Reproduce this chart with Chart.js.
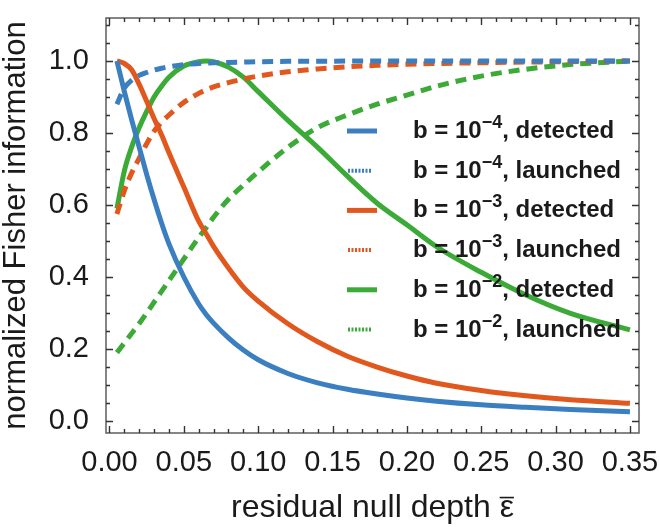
<!DOCTYPE html>
<html>
<head>
<meta charset="utf-8">
<script src="https://cdn.jsdelivr.net/npm/chart.js@4.4.1/dist/chart.umd.min.js"></script>
<style>
  html, body { margin: 0; padding: 0; background: #fff; }
  #wrap { width: 660px; height: 527px; }
</style>
</head>
<body>
<div id="wrap"><canvas id="fisherChart" width="660" height="527"></canvas></div>
<script>
// ── Data ───────────────────────────────────────────────────
const eps = [0.005, 0.01, 0.015, 0.02, 0.025, 0.03, 0.035, 0.04, 0.05, 0.06, 0.065, 0.07, 0.08,
             0.09, 0.10, 0.12, 0.14, 0.16, 0.18, 0.20, 0.22, 0.25, 0.28, 0.31, 0.35];

const detected4 = [1.00, 0.915, 0.835, 0.76, 0.685, 0.615, 0.55, 0.492, 0.40, 0.325, 0.296, 0.272, 0.231,
                   0.197, 0.17, 0.132, 0.106, 0.088, 0.075, 0.064, 0.055, 0.045, 0.038, 0.032, 0.026];
const launched4 = [0.88, 0.925, 0.947, 0.96, 0.968, 0.975, 0.98, 0.984, 0.99, 0.993, 0.994, 0.995, 0.996,
                   0.997, 0.998, 0.999, 0.999, 1.0, 1.0, 1.0, 1.0, 1.0, 1.0, 1.0, 1.0];
const detected3 = [1.00, 0.993, 0.975, 0.935, 0.888, 0.84, 0.795, 0.745, 0.65, 0.555, 0.52, 0.485, 0.425,
                   0.372, 0.333, 0.27, 0.22, 0.18, 0.15, 0.125, 0.105, 0.085, 0.07, 0.059, 0.049];
const launched3 = [0.575, 0.64, 0.69, 0.73, 0.77, 0.805, 0.83, 0.85, 0.885, 0.91, 0.92, 0.928, 0.94,
                   0.95, 0.958, 0.97, 0.978, 0.984, 0.988, 0.991, 0.993, 0.995, 0.997, 0.998, 1.0];
const detected2 = [0.59, 0.695, 0.762, 0.815, 0.86, 0.90, 0.93, 0.955, 0.986, 0.998, 1.0, 0.998, 0.983,
                   0.955, 0.915, 0.835, 0.76, 0.68, 0.605, 0.545, 0.484, 0.413, 0.35, 0.299, 0.253];
const launched2 = [0.19, 0.217, 0.244, 0.271, 0.30, 0.33, 0.36, 0.39, 0.45, 0.51, 0.537, 0.566, 0.616,
                   0.655, 0.692, 0.76, 0.815, 0.85, 0.88, 0.905, 0.93, 0.958, 0.977, 0.99, 1.0];

const xTicks = [0, 0.05, 0.10, 0.15, 0.20, 0.25, 0.30, 0.35];
const yTicks = [0, 0.2, 0.4, 0.6, 0.8, 1.0];

const BLUE = '#3b7fc0', ORANGE = '#e0581e', GREEN = '#3caa37';
const TEXT = '#1a1a1a';
const FAMILY = '"Liberation Sans", Arial, sans-serif';

const series = [
    { exp: '−4', kind: 'detected', values: detected4, color: BLUE,   dashed: false },
    { exp: '−4', kind: 'launched', values: launched4, color: BLUE,   dashed: true  },
    { exp: '−3', kind: 'detected', values: detected3, color: ORANGE, dashed: false },
    { exp: '−3', kind: 'launched', values: launched3, color: ORANGE, dashed: true  },
    { exp: '−2', kind: 'detected', values: detected2, color: GREEN,  dashed: false },
    { exp: '−2', kind: 'launched', values: launched2, color: GREEN,  dashed: true  }
];

// ── Frame with inward ticks on all four sides ──────────────
const framePlugin = {
    id: 'frame',
    afterDatasetsDraw(chart) {
        const { ctx, chartArea: a, scales: { x, y } } = chart;
        ctx.save();
        ctx.strokeStyle = '#5e5e5e';
        ctx.lineWidth = 1.5;
        ctx.strokeRect(a.left, a.top, a.right - a.left, a.bottom - a.top);

        ctx.strokeStyle = '#333';
        ctx.lineWidth = 1.4;
        ctx.beginPath();
        for (let i = 0; i <= 35; i++) {
            const px = Math.round(x.getPixelForValue(i / 100)) + 0.5;
            const len = i % 5 === 0 ? 7 : 4;
            ctx.moveTo(px, a.bottom); ctx.lineTo(px, a.bottom - len);
            ctx.moveTo(px, a.top);    ctx.lineTo(px, a.top + len);
        }
        for (let i = 0; i <= 22; i++) {
            const py = Math.round(y.getPixelForValue(i * 0.05)) + 0.5;
            const len = i % 4 === 0 ? 7 : 4;
            ctx.moveTo(a.left, py);  ctx.lineTo(a.left + len, py);
            ctx.moveTo(a.right, py); ctx.lineTo(a.right - len, py);
        }
        ctx.stroke();

        // bar over the epsilon of the x title
        const title = x.options.title;
        const size = title.font.size;
        ctx.font = `${size}px ${FAMILY}`;
        const w = ctx.measureText(title.text).width;
        const we = ctx.measureText('ε').width;
        const right = (x.left + x.right) / 2 + w / 2;
        const mid = chart.height - title.padding.bottom - size / 2;
        const barY = mid + 0.35 * size - 0.52 * size - 5;
        ctx.strokeStyle = TEXT;
        ctx.lineWidth = 1.6;
        ctx.beginPath();
        ctx.moveTo(right - we, barY);
        ctx.lineTo(right, barY);
        ctx.stroke();
        ctx.restore();
    }
};

// ── Legend with superscripts ───────────────────────────────
const legendPlugin = {
    id: 'supLegend',
    afterDatasetsDraw(chart) {
        const ctx = chart.ctx;
        const x0 = 347, textX = 413, row0 = 131, step = 39.7;
        ctx.save();
        series.forEach((s, i) => {
            const cy = row0 + i * step;
            ctx.strokeStyle = s.color;
            ctx.beginPath();
            if (s.dashed) {
                ctx.setLineDash([2, 1.5]);
                ctx.lineWidth = 4;
                ctx.moveTo(x0 + 1, cy); ctx.lineTo(x0 + 25, cy);
            } else {
                ctx.setLineDash([]);
                ctx.lineWidth = 5;
                ctx.moveTo(x0, cy); ctx.lineTo(x0 + 30, cy);
            }
            ctx.stroke();
            ctx.setLineDash([]);

            const base = cy + 7;
            let tx = textX;
            ctx.fillStyle = TEXT;
            ctx.textBaseline = 'alphabetic';
            ctx.textAlign = 'left';
            ctx.font = `bold 24px ${FAMILY}`;
            ctx.fillText('b = 10', tx, base);
            tx += ctx.measureText('b = 10').width;
            ctx.font = `bold 18px ${FAMILY}`;
            ctx.fillText(s.exp, tx, base - 10);
            tx += ctx.measureText(s.exp).width;
            ctx.font = `bold 24px ${FAMILY}`;
            ctx.fillText(', ' + s.kind, tx, base);
        });
        ctx.restore();
    }
};

function noPadding(sc) {
    sc.paddingTop = 0; sc.paddingBottom = 0;
    sc.paddingLeft = 0; sc.paddingRight = 0;
}

const tickFont = { family: FAMILY, size: 29 };
const yTitleFont = { family: FAMILY, size: 31, lineHeight: 1 };
const xTitleFont = { family: FAMILY, size: 32, lineHeight: 1 };

new Chart(document.getElementById('fisherChart'), {
    type: 'line',
    data: {
        datasets: series.map(s => ({
            label: `b = 10${s.exp}, ${s.kind}`,
            data: eps.map((e, i) => ({ x: e, y: s.values[i] })),
            borderColor: s.color,
            backgroundColor: s.color,
            borderWidth: 5,
            borderDash: s.dashed ? [11, 7] : [],
            borderCapStyle: 'butt',
            pointRadius: 0,
            cubicInterpolationMode: 'monotone',
            fill: false
        }))
    },
    options: {
        responsive: false,
        animation: false,
        layout: { padding: { top: 18, right: 21, left: 0, bottom: 0 } },
        plugins: {
            legend: { display: false },
            tooltip: { enabled: false }
        },
        scales: {
            x: {
                type: 'linear',
                min: -0.00235, max: 0.3561,
                afterBuildTicks: sc => { sc.ticks = xTicks.map(v => ({ value: v })); },
                afterFit: sc => { sc.height = 94; noPadding(sc); },
                grid: { display: false },
                border: { display: false },
                ticks: {
                    color: TEXT, font: tickFont, padding: 5,
                    maxRotation: 0, autoSkip: false,
                    callback: v => v.toFixed(2)
                },
                title: {
                    display: true, text: 'residual null depth ε',
                    color: TEXT, font: xTitleFont, padding: { top: 0, bottom: 3 }
                }
            },
            y: {
                type: 'linear',
                min: -0.0333, max: 1.1194,
                afterBuildTicks: sc => { sc.ticks = yTicks.map(v => ({ value: v })); },
                afterFit: sc => { sc.width = 106; noPadding(sc); },
                grid: { display: false },
                border: { display: false },
                ticks: {
                    color: TEXT, font: tickFont, padding: 9,
                    autoSkip: false,
                    callback: v => v.toFixed(1)
                },
                title: {
                    display: true, text: 'normalized Fisher information',
                    color: TEXT, font: yTitleFont, padding: { top: 1, bottom: 0 }
                }
            }
        }
    },
    plugins: [framePlugin, legendPlugin]
});
</script>
</body>
</html>
